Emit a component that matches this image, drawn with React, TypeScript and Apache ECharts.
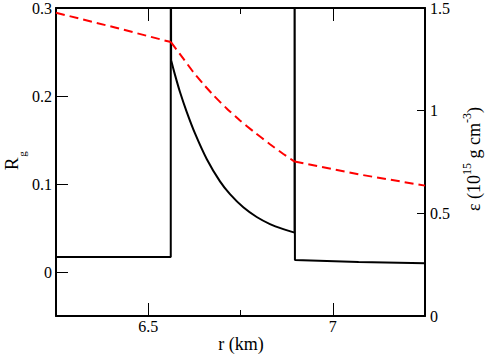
import React, { useEffect, useRef } from "react";
import * as echarts from "echarts";

// x axis: r (km)
const xMin = 6.25;
const xMax = 7.25;
const xMajorTicks = [6.5, 7];
const xMinorTicks = [6.75];
// left axis: R_g
const leftMin = -0.05;
const leftMax = 0.3;
const leftTicks = [0, 0.1, 0.2];
const leftLabels = [0, 0.1, 0.2, 0.3];
// right axis: epsilon
const rightMin = 0;
const rightMax = 1.5;
const rightTicks = [0.5, 1];
const rightLabels = [0, 0.5, 1, 1.5];

// R_g steps (black solid): left plateau + jumps going off the top, right tail
const rgStepR = [6.25, 6.561, 6.561, 6.5615, 6.562];
const rgStepValues = [0.017, 0.017, 0.5, 0.5, 0.2406];
const rgJumpR = [6.8965, 6.8965, 6.8975, 7.07, 7.25];
const rgJumpValues = [0.0447, 0.5, 0.0136, 0.0115, 0.0099];
// R_g decaying curve between the two jumps
const rgCurveR = [
  6.562, 6.5725, 6.586, 6.6042, 6.6267, 6.6584, 6.6944, 6.7215, 6.7576, 6.7939,
  6.8299, 6.866, 6.8965,
];
const rgCurveValues = [
  0.2406, 0.224, 0.2045, 0.182, 0.1575, 0.1285, 0.103, 0.0885, 0.0735, 0.0625,
  0.0545, 0.0487, 0.0447,
];

// epsilon (red dashed) in three pieces
const epsLeftR = [6.25, 6.41, 6.5615];
const epsLeftValues = [1.477, 1.405, 1.334];
const epsMidR = [6.5615, 6.5951, 6.6222, 6.6493, 6.6764, 6.7125, 6.7486, 6.7848, 6.8299, 6.8661, 6.8965];
const epsMidValues = [1.334, 1.2535, 1.1877, 1.1293, 1.0757, 1.0107, 0.9523, 0.8991, 0.8366, 0.7891, 0.752];
const epsRightR = [6.8965, 7.07, 7.25];
const epsRightValues = [0.752, 0.69, 0.635];

const FONT = "Liberation Serif";

function pairs(xs: number[], ys: number[]) {
  return xs.map((x, i) => [x, ys[i]]);
}

function makeX(position: string, ticks: number[], len: number, gridIndex: number, showLine: boolean, showLabel: boolean) {
  return {
    type: "value",
    gridIndex,
    position,
    min: xMin,
    max: xMax,
    axisLine: { show: showLine, onZero: false, lineStyle: { color: "#000", width: 2 } },
    axisTick: { show: true, inside: true, length: len, customValues: ticks, lineStyle: { color: "#000", width: 1 } },
    axisLabel: showLabel
      ? { show: true, customValues: ticks, margin: 2, color: "#000", fontFamily: FONT, fontSize: 16, formatter: (v: number) => String(v) }
      : { show: false },
    splitLine: { show: false },
  };
}

const blackStyle = { color: "#000", width: 2, join: "bevel" };
const redStyle = { color: "#ff0000", width: 2, type: [9, 5] };

export default function App() {
  const ref = useRef<HTMLDivElement>(null);
  useEffect(() => {
    if (!ref.current) return;
    const chart = echarts.init(ref.current, undefined, { renderer: "svg" });
    const gridRect = { left: 56, top: 8, width: 369, height: 308 };
    const line = (data: number[][], style: any, yAxisIndex: number, smooth: any) => ({
      type: "line",
      xAxisIndex: 0,
      yAxisIndex,
      data,
      showSymbol: false,
      symbol: "none",
      smooth,
      lineStyle: style,
      clip: true,
    });
    const option: any = {
      animation: false,
      backgroundColor: "#fff",
      textStyle: { fontFamily: FONT },
      grid: [
        { ...gridRect, containLabel: false },
        { ...gridRect, containLabel: false },
      ],
      xAxis: [
        makeX("bottom", xMajorTicks, 13, 0, true, true),
        makeX("top", xMajorTicks, 13, 0, true, false),
        makeX("bottom", xMinorTicks, 6, 1, false, false),
        makeX("top", xMinorTicks, 6, 1, false, false),
      ],
      yAxis: [
        {
          type: "value",
          gridIndex: 0,
          position: "left",
          min: leftMin,
          max: leftMax,
          axisLine: { show: true, onZero: false, lineStyle: { color: "#000", width: 2 } },
          axisTick: { show: true, inside: true, length: 12, customValues: leftTicks, lineStyle: { color: "#000", width: 1 } },
          axisLabel: { show: true, customValues: leftLabels, margin: 4, color: "#000", fontFamily: FONT, fontSize: 16, formatter: (v: number) => String(v) },
          splitLine: { show: false },
        },
        {
          type: "value",
          gridIndex: 0,
          position: "right",
          min: rightMin,
          max: rightMax,
          axisLine: { show: true, onZero: false, lineStyle: { color: "#000", width: 2 } },
          axisTick: { show: true, inside: true, length: 8, customValues: rightTicks, lineStyle: { color: "#000", width: 1 } },
          axisLabel: { show: true, customValues: rightLabels, margin: 5, color: "#000", fontFamily: FONT, fontSize: 16, formatter: (v: number) => String(v) },
          splitLine: { show: false },
        },
        { type: "value", gridIndex: 1, min: 0, max: 1, show: false },
      ],
      series: [
        line(pairs(rgStepR, rgStepValues), blackStyle, 0, false),
        line(pairs(rgCurveR, rgCurveValues), blackStyle, 0, 0.2),
        line(pairs(rgJumpR, rgJumpValues), blackStyle, 0, false),
        line(pairs(epsLeftR, epsLeftValues), redStyle, 1, false),
        line(pairs(epsMidR, epsMidValues), redStyle, 1, 0.2),
        line(pairs(epsRightR, epsRightValues), redStyle, 1, false),
      ],
      graphic: [
        {
          type: "text",
          x: 241,
          y: 344,
          style: { text: "r (km)", fontFamily: FONT, fontSize: 18, fill: "#000", align: "center", verticalAlign: "middle" },
        },
        {
          type: "group",
          x: 11,
          y: 164,
          rotation: Math.PI / 2,
          children: [
            {
              type: "text",
              x: 0,
              y: 0,
              style: { text: "R", fontFamily: FONT, fontSize: 19, fill: "#000", align: "center", verticalAlign: "middle" },
            },
            {
              type: "text",
              x: 10,
              y: 11,
              style: { text: "g", fontFamily: FONT, fontSize: 11, fill: "#000", align: "center", verticalAlign: "middle" },
            },
          ],
        },
        {
          type: "text",
          x: 474,
          y: 159,
          rotation: Math.PI / 2,
          style: {
            text: "{m|ε (10}{p|15}{m| g cm}{p|-3}{m|)}",
            align: "center",
            verticalAlign: "middle",
            rich: {
              m: { fontFamily: FONT, fontSize: 18, fill: "#000", lineHeight: 26 },
              p: { fontFamily: FONT, fontSize: 12, fill: "#000", lineHeight: 12, verticalAlign: "top" },
            },
          },
        },
      ],
    };
    chart.setOption(option);
    return () => chart.dispose();
  }, []);
  return (
    <div
      ref={ref}
      style={{ position: "fixed", left: 0, top: 0, width: 491, height: 355, background: "#fff" }}
    />
  );
}
